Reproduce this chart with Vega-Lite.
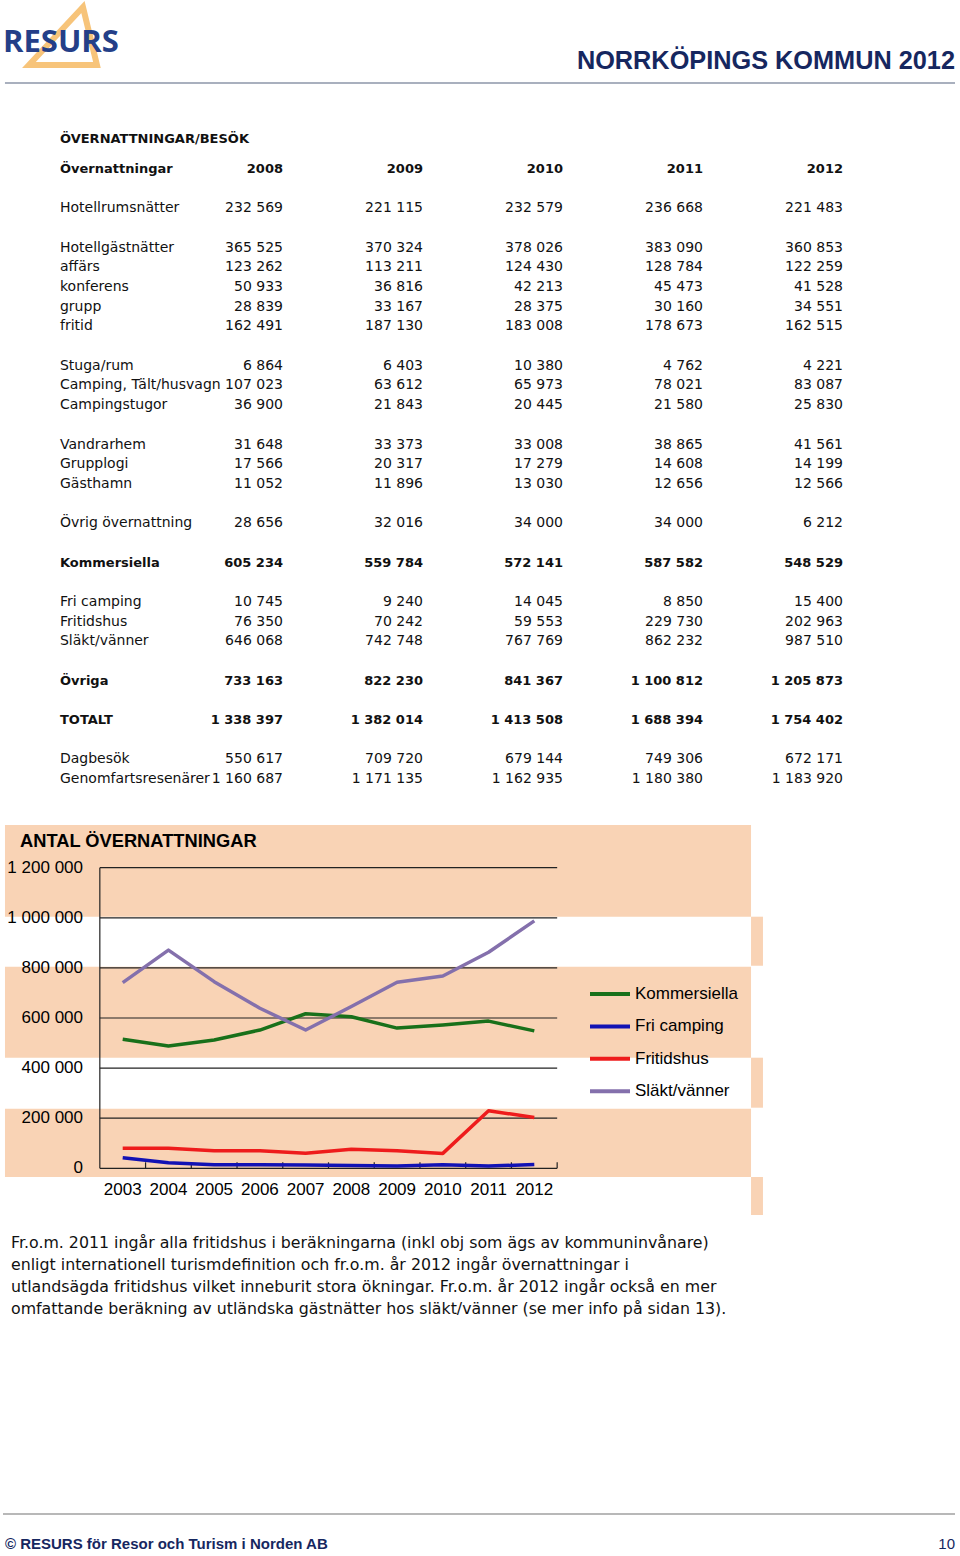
{
  "$schema": "https://vega.github.io/schema/vega-lite/v6.json",
  "width": 960,
  "height": 1556,
  "padding": 0,
  "autosize": {"type": "none"},
  "background": "white",
  "config": {
    "view": {"stroke": null},
    "locale": {"number": {"decimal": ",", "thousands": " ", "grouping": [3], "currency": ["", " kr"]}}
  },
  "resolve": {"scale": {"x": "independent", "y": "independent", "color": "independent"}},
  "layer": [
    {
      "layer": [
        {
          "data": {"values": [{"k": "top"}]},
          "mark": {"type": "rule", "color": "#8d96a8", "strokeWidth": 1.5},
          "encoding": {
            "x": {"datum": 2006.014, "type": "quantitative", "scale": {"domain": [2008, 2012], "range": [283, 843], "zero": false, "nice": false}, "axis": null},
            "x2": {"datum": 2012.8},
            "y": {"datum": -4.37, "type": "quantitative", "scale": {"domain": [0, 31], "range": [169, 779.1], "zero": false, "nice": false}, "axis": null}
          }
        },
        {
          "data": {"values": [{"k": "bottom"}]},
          "mark": {"type": "rule", "color": "#a0a0a0", "strokeWidth": 1.5},
          "encoding": {
            "x": {"datum": 2006.0, "type": "quantitative", "axis": null},
            "x2": {"datum": 2012.8},
            "y": {"datum": 68.34, "type": "quantitative", "axis": null}
          }
        },
        {
          "data": {"values": [{"k": "logo"}]},
          "mark": {"type": "point", "shape": "M0.553,-0.763L0.921,0.763L-0.868,0.763Z", "size": 5776, "filled": false, "stroke": "#f7c47a", "strokeWidth": 6, "opacity": 1},
          "encoding": {
            "x": {"datum": 2006.421, "type": "quantitative", "axis": null},
            "y": {"datum": -6.758, "type": "quantitative", "axis": null}
          }
        },
        {
          "data": {"values": [{"k": "logo", "t": "RESURS"}]},
          "mark": {"type": "text", "align": "left", "baseline": "middle", "font": "Open Sans", "fontWeight": "bold", "fontSize": 31, "color": "#243f88"},
          "encoding": {
            "x": {"datum": 2006.0, "type": "quantitative", "axis": null},
            "y": {"datum": -6.377, "type": "quantitative", "axis": null},
            "text": {"field": "t"}
          }
        },
        {
          "data": {"values": [{"k": "title", "t": "NORRKÖPINGS KOMMUN 2012"}]},
          "mark": {"type": "text", "align": "right", "baseline": "middle", "font": "Liberation Sans", "fontWeight": "bold", "fontSize": 25.3, "color": "#16275f"},
          "encoding": {
            "x": {"datum": 2012.8, "type": "quantitative", "axis": null},
            "y": {"datum": -5.49, "type": "quantitative", "axis": null},
            "text": {"field": "t"}
          }
        },
        {
          "data": {"values": [{"k": "foot", "t": "© RESURS för Resor och Turism i Norden AB"}]},
          "mark": {"type": "text", "align": "left", "baseline": "middle", "font": "Liberation Sans", "fontWeight": "bold", "fontSize": 15, "color": "#16275f"},
          "encoding": {
            "x": {"datum": 2006.014, "type": "quantitative", "axis": null},
            "y": {"datum": 69.87, "type": "quantitative", "axis": null},
            "text": {"field": "t"}
          }
        },
        {
          "data": {"values": [{"k": "page", "t": "10"}]},
          "mark": {"type": "text", "align": "right", "baseline": "middle", "font": "Liberation Sans", "fontSize": 15, "color": "#16275f"},
          "encoding": {
            "x": {"datum": 2012.8, "type": "quantitative", "axis": null},
            "y": {"datum": 69.87, "type": "quantitative", "axis": null},
            "text": {"field": "t"}
          }
        },
        {
          "data": {"name": "labels", "values": [
            {"r": -1.5, "t": "ÖVERNATTNINGAR/BESÖK", "b": 1},
            {"r": 0, "t": "Övernattningar", "b": 1},
            {"r": 2, "t": "Hotellrumsnätter", "b": 0},
            {"r": 4, "t": "Hotellgästnätter", "b": 0},
            {"r": 5, "t": "affärs", "b": 0},
            {"r": 6, "t": "konferens", "b": 0},
            {"r": 7, "t": "grupp", "b": 0},
            {"r": 8, "t": "fritid", "b": 0},
            {"r": 10, "t": "Stuga/rum", "b": 0},
            {"r": 11, "t": "Camping, Tält/husvagn", "b": 0},
            {"r": 12, "t": "Campingstugor", "b": 0},
            {"r": 14, "t": "Vandrarhem", "b": 0},
            {"r": 15, "t": "Grupplogi", "b": 0},
            {"r": 16, "t": "Gästhamn", "b": 0},
            {"r": 18, "t": "Övrig övernattning", "b": 0},
            {"r": 20, "t": "Kommersiella", "b": 1},
            {"r": 22, "t": "Fri camping", "b": 0},
            {"r": 23, "t": "Fritidshus", "b": 0},
            {"r": 24, "t": "Släkt/vänner", "b": 0},
            {"r": 26, "t": "Övriga", "b": 1},
            {"r": 28, "t": "TOTALT", "b": 1},
            {"r": 30, "t": "Dagbesök", "b": 0},
            {"r": 31, "t": "Genomfartsresenärer", "b": 0}
          ]},
          "layer": [
            {
              "transform": [{"filter": "datum.b == 0"}],
              "mark": {"type": "text", "align": "left", "baseline": "middle", "font": "DejaVu Sans", "fontSize": 14, "color": "#111"},
              "encoding": {
                "x": {"datum": 2006.407, "type": "quantitative", "axis": null},
                "y": {"field": "r", "type": "quantitative", "axis": null},
                "text": {"field": "t"}
              }
            },
            {
              "transform": [{"filter": "datum.b == 1"}],
              "mark": {"type": "text", "align": "left", "baseline": "middle", "font": "DejaVu Sans", "fontWeight": "bold", "fontSize": 13, "color": "#111"},
              "encoding": {
                "x": {"datum": 2006.407, "type": "quantitative", "axis": null},
                "y": {"field": "r", "type": "quantitative", "axis": null},
                "text": {"field": "t"}
              }
            }
          ]
        },
        {
          "data": {"values": [{"year": 2008}, {"year": 2009}, {"year": 2010}, {"year": 2011}, {"year": 2012}]},
          "mark": {"type": "text", "align": "right", "baseline": "middle", "font": "DejaVu Sans", "fontWeight": "bold", "fontSize": 13, "color": "#111"},
          "encoding": {
            "x": {"field": "year", "type": "quantitative", "axis": null},
            "y": {"datum": 0, "type": "quantitative", "axis": null},
            "text": {"field": "year", "type": "quantitative", "format": "d"}
          }
        },
        {
          "data": {"name": "cells", "values": [
            {"r": 2, "year": 2008, "v": 232569, "b": 0}, {"r": 2, "year": 2009, "v": 221115, "b": 0}, {"r": 2, "year": 2010, "v": 232579, "b": 0}, {"r": 2, "year": 2011, "v": 236668, "b": 0}, {"r": 2, "year": 2012, "v": 221483, "b": 0},
            {"r": 4, "year": 2008, "v": 365525, "b": 0}, {"r": 4, "year": 2009, "v": 370324, "b": 0}, {"r": 4, "year": 2010, "v": 378026, "b": 0}, {"r": 4, "year": 2011, "v": 383090, "b": 0}, {"r": 4, "year": 2012, "v": 360853, "b": 0},
            {"r": 5, "year": 2008, "v": 123262, "b": 0}, {"r": 5, "year": 2009, "v": 113211, "b": 0}, {"r": 5, "year": 2010, "v": 124430, "b": 0}, {"r": 5, "year": 2011, "v": 128784, "b": 0}, {"r": 5, "year": 2012, "v": 122259, "b": 0},
            {"r": 6, "year": 2008, "v": 50933, "b": 0}, {"r": 6, "year": 2009, "v": 36816, "b": 0}, {"r": 6, "year": 2010, "v": 42213, "b": 0}, {"r": 6, "year": 2011, "v": 45473, "b": 0}, {"r": 6, "year": 2012, "v": 41528, "b": 0},
            {"r": 7, "year": 2008, "v": 28839, "b": 0}, {"r": 7, "year": 2009, "v": 33167, "b": 0}, {"r": 7, "year": 2010, "v": 28375, "b": 0}, {"r": 7, "year": 2011, "v": 30160, "b": 0}, {"r": 7, "year": 2012, "v": 34551, "b": 0},
            {"r": 8, "year": 2008, "v": 162491, "b": 0}, {"r": 8, "year": 2009, "v": 187130, "b": 0}, {"r": 8, "year": 2010, "v": 183008, "b": 0}, {"r": 8, "year": 2011, "v": 178673, "b": 0}, {"r": 8, "year": 2012, "v": 162515, "b": 0},
            {"r": 10, "year": 2008, "v": 6864, "b": 0}, {"r": 10, "year": 2009, "v": 6403, "b": 0}, {"r": 10, "year": 2010, "v": 10380, "b": 0}, {"r": 10, "year": 2011, "v": 4762, "b": 0}, {"r": 10, "year": 2012, "v": 4221, "b": 0},
            {"r": 11, "year": 2008, "v": 107023, "b": 0}, {"r": 11, "year": 2009, "v": 63612, "b": 0}, {"r": 11, "year": 2010, "v": 65973, "b": 0}, {"r": 11, "year": 2011, "v": 78021, "b": 0}, {"r": 11, "year": 2012, "v": 83087, "b": 0},
            {"r": 12, "year": 2008, "v": 36900, "b": 0}, {"r": 12, "year": 2009, "v": 21843, "b": 0}, {"r": 12, "year": 2010, "v": 20445, "b": 0}, {"r": 12, "year": 2011, "v": 21580, "b": 0}, {"r": 12, "year": 2012, "v": 25830, "b": 0},
            {"r": 14, "year": 2008, "v": 31648, "b": 0}, {"r": 14, "year": 2009, "v": 33373, "b": 0}, {"r": 14, "year": 2010, "v": 33008, "b": 0}, {"r": 14, "year": 2011, "v": 38865, "b": 0}, {"r": 14, "year": 2012, "v": 41561, "b": 0},
            {"r": 15, "year": 2008, "v": 17566, "b": 0}, {"r": 15, "year": 2009, "v": 20317, "b": 0}, {"r": 15, "year": 2010, "v": 17279, "b": 0}, {"r": 15, "year": 2011, "v": 14608, "b": 0}, {"r": 15, "year": 2012, "v": 14199, "b": 0},
            {"r": 16, "year": 2008, "v": 11052, "b": 0}, {"r": 16, "year": 2009, "v": 11896, "b": 0}, {"r": 16, "year": 2010, "v": 13030, "b": 0}, {"r": 16, "year": 2011, "v": 12656, "b": 0}, {"r": 16, "year": 2012, "v": 12566, "b": 0},
            {"r": 18, "year": 2008, "v": 28656, "b": 0}, {"r": 18, "year": 2009, "v": 32016, "b": 0}, {"r": 18, "year": 2010, "v": 34000, "b": 0}, {"r": 18, "year": 2011, "v": 34000, "b": 0}, {"r": 18, "year": 2012, "v": 6212, "b": 0},
            {"r": 20, "year": 2008, "v": 605234, "b": 1}, {"r": 20, "year": 2009, "v": 559784, "b": 1}, {"r": 20, "year": 2010, "v": 572141, "b": 1}, {"r": 20, "year": 2011, "v": 587582, "b": 1}, {"r": 20, "year": 2012, "v": 548529, "b": 1},
            {"r": 22, "year": 2008, "v": 10745, "b": 0}, {"r": 22, "year": 2009, "v": 9240, "b": 0}, {"r": 22, "year": 2010, "v": 14045, "b": 0}, {"r": 22, "year": 2011, "v": 8850, "b": 0}, {"r": 22, "year": 2012, "v": 15400, "b": 0},
            {"r": 23, "year": 2008, "v": 76350, "b": 0}, {"r": 23, "year": 2009, "v": 70242, "b": 0}, {"r": 23, "year": 2010, "v": 59553, "b": 0}, {"r": 23, "year": 2011, "v": 229730, "b": 0}, {"r": 23, "year": 2012, "v": 202963, "b": 0},
            {"r": 24, "year": 2008, "v": 646068, "b": 0}, {"r": 24, "year": 2009, "v": 742748, "b": 0}, {"r": 24, "year": 2010, "v": 767769, "b": 0}, {"r": 24, "year": 2011, "v": 862232, "b": 0}, {"r": 24, "year": 2012, "v": 987510, "b": 0},
            {"r": 26, "year": 2008, "v": 733163, "b": 1}, {"r": 26, "year": 2009, "v": 822230, "b": 1}, {"r": 26, "year": 2010, "v": 841367, "b": 1}, {"r": 26, "year": 2011, "v": 1100812, "b": 1}, {"r": 26, "year": 2012, "v": 1205873, "b": 1},
            {"r": 28, "year": 2008, "v": 1338397, "b": 1}, {"r": 28, "year": 2009, "v": 1382014, "b": 1}, {"r": 28, "year": 2010, "v": 1413508, "b": 1}, {"r": 28, "year": 2011, "v": 1688394, "b": 1}, {"r": 28, "year": 2012, "v": 1754402, "b": 1},
            {"r": 30, "year": 2008, "v": 550617, "b": 0}, {"r": 30, "year": 2009, "v": 709720, "b": 0}, {"r": 30, "year": 2010, "v": 679144, "b": 0}, {"r": 30, "year": 2011, "v": 749306, "b": 0}, {"r": 30, "year": 2012, "v": 672171, "b": 0},
            {"r": 31, "year": 2008, "v": 1160687, "b": 0}, {"r": 31, "year": 2009, "v": 1171135, "b": 0}, {"r": 31, "year": 2010, "v": 1162935, "b": 0}, {"r": 31, "year": 2011, "v": 1180380, "b": 0}, {"r": 31, "year": 2012, "v": 1183920, "b": 0}
          ]},
          "layer": [
            {
              "transform": [{"filter": "datum.b == 0"}],
              "mark": {"type": "text", "align": "right", "baseline": "middle", "font": "DejaVu Sans", "fontSize": 14, "color": "#111"},
              "encoding": {
                "x": {"field": "year", "type": "quantitative", "axis": null},
                "y": {"field": "r", "type": "quantitative", "axis": null},
                "text": {"field": "v", "type": "quantitative", "format": ",d"}
              }
            },
            {
              "transform": [{"filter": "datum.b == 1"}],
              "mark": {"type": "text", "align": "right", "baseline": "middle", "font": "DejaVu Sans", "fontWeight": "bold", "fontSize": 13, "color": "#111"},
              "encoding": {
                "x": {"field": "year", "type": "quantitative", "axis": null},
                "y": {"field": "r", "type": "quantitative", "axis": null},
                "text": {"field": "v", "type": "quantitative", "format": ",d"}
              }
            }
          ]
        }
      ]
    },
    {
      "data": {"values": [
        {"line": 1, "t": "Fr.o.m. 2011 ingår alla fritidshus i beräkningarna (inkl obj som ägs av kommuninvånare)"},
        {"line": 2, "t": "enligt internationell turismdefinition och fr.o.m. år 2012 ingår övernattningar i"},
        {"line": 3, "t": "utlandsägda fritidshus vilket inneburit stora ökningar. Fr.o.m. år 2012 ingår också en mer"},
        {"line": 4, "t": "omfattande beräkning av utländska gästnätter hos släkt/vänner (se mer info på sidan 13)."}
      ]},
      "mark": {"type": "text", "align": "left", "baseline": "middle", "font": "DejaVu Sans", "fontSize": 15.8, "color": "#111"},
      "encoding": {
        "x": {"datum": 0, "type": "quantitative", "scale": {"domain": [0, 1], "range": [11, 12], "zero": false, "nice": false}, "axis": null},
        "y": {"field": "line", "type": "quantitative", "scale": {"domain": [1, 4], "range": [1243, 1309], "zero": false, "nice": false}, "axis": null},
        "text": {"field": "t"}
      }
    },
    {
      "layer": [
        {
          "data": {"values": [{"band": 1}]},
          "mark": {"type": "rect", "color": "#f9d3b5"},
          "encoding": {
            "x": {"datum": 2000.426, "type": "quantitative", "scale": {"domain": [2003, 2012], "range": [122.7, 534.3], "zero": false, "nice": false}, "axis": null},
            "x2": {"datum": 2016.739},
            "y": {"datum": 1370500, "type": "quantitative", "scale": {"domain": [0, 1200000], "range": [1168.3, 867.7], "zero": false, "nice": false}, "axis": null},
            "y2": {"datum": 1004400}
          }
        },
        {
          "data": {"values": [{"band": 2}]},
          "mark": {"type": "rect", "color": "#f9d3b5"},
          "encoding": {
            "x": {"datum": 2000.426, "type": "quantitative", "axis": null},
            "x2": {"datum": 2016.739},
            "y": {"datum": 804800, "type": "quantitative", "axis": null},
            "y2": {"datum": 441500}
          }
        },
        {
          "data": {"values": [{"band": 3}]},
          "mark": {"type": "rect", "color": "#f9d3b5"},
          "encoding": {
            "x": {"datum": 2000.426, "type": "quantitative", "axis": null},
            "x2": {"datum": 2016.739},
            "y": {"datum": 237900, "type": "quantitative", "axis": null},
            "y2": {"datum": -34700}
          }
        },
        {
          "data": {"values": [{"band": 4}]},
          "mark": {"type": "rect", "color": "#f9d3b5"},
          "encoding": {
            "x": {"datum": 2016.739, "type": "quantitative", "axis": null},
            "x2": {"datum": 2017.0},
            "y": {"datum": 1004400, "type": "quantitative", "axis": null},
            "y2": {"datum": 808600}
          }
        },
        {
          "data": {"values": [{"band": 5}]},
          "mark": {"type": "rect", "color": "#f9d3b5"},
          "encoding": {
            "x": {"datum": 2016.739, "type": "quantitative", "axis": null},
            "x2": {"datum": 2017.0},
            "y": {"datum": 441500, "type": "quantitative", "axis": null},
            "y2": {"datum": 241900}
          }
        },
        {
          "data": {"values": [{"band": 6}]},
          "mark": {"type": "rect", "color": "#f9d3b5"},
          "encoding": {
            "x": {"datum": 2016.739, "type": "quantitative", "axis": null},
            "x2": {"datum": 2017.0},
            "y": {"datum": -34700, "type": "quantitative", "axis": null},
            "y2": {"datum": -186400}
          }
        },
        {
          "data": {"name": "gridvals", "values": [{"g": 0}, {"g": 200000}, {"g": 400000}, {"g": 600000}, {"g": 800000}, {"g": 1000000}, {"g": 1200000}]},
          "layer": [
            {
              "mark": {"type": "rule", "color": "#222", "strokeWidth": 1.2},
              "encoding": {
                "x": {"datum": 2002.5, "type": "quantitative", "axis": null},
                "x2": {"datum": 2012.5},
                "y": {"field": "g", "type": "quantitative", "axis": null}
              }
            },
            {
              "mark": {"type": "text", "align": "right", "baseline": "middle", "font": "Liberation Sans", "fontSize": 17, "color": "#000"},
              "encoding": {
                "x": {"datum": 2002.132, "type": "quantitative", "axis": null},
                "y": {"field": "g", "type": "quantitative", "axis": null},
                "text": {"field": "g", "type": "quantitative", "format": ",d"}
              }
            }
          ]
        },
        {
          "data": {"values": [{"k": "axis"}]},
          "mark": {"type": "rule", "color": "#222", "strokeWidth": 1.2},
          "encoding": {
            "x": {"datum": 2002.5, "type": "quantitative", "axis": null},
            "y": {"datum": 0, "type": "quantitative", "axis": null},
            "y2": {"datum": 1200000}
          }
        },
        {
          "data": {"values": [{"b": 2003.5}, {"b": 2004.5}, {"b": 2005.5}, {"b": 2006.5}, {"b": 2007.5}, {"b": 2008.5}, {"b": 2009.5}, {"b": 2010.5}, {"b": 2011.5}, {"b": 2012.5}]},
          "mark": {"type": "rule", "color": "#222", "strokeWidth": 1.2},
          "encoding": {
            "x": {"field": "b", "type": "quantitative", "axis": null},
            "y": {"datum": 0, "type": "quantitative", "axis": null},
            "y2": {"datum": 24000}
          }
        },
        {
          "data": {"values": [{"yr": 2003}, {"yr": 2004}, {"yr": 2005}, {"yr": 2006}, {"yr": 2007}, {"yr": 2008}, {"yr": 2009}, {"yr": 2010}, {"yr": 2011}, {"yr": 2012}]},
          "mark": {"type": "text", "align": "center", "baseline": "middle", "font": "Liberation Sans", "fontSize": 17, "color": "#000"},
          "encoding": {
            "x": {"field": "yr", "type": "quantitative", "axis": null},
            "y": {"datum": -88600, "type": "quantitative", "axis": null},
            "text": {"field": "yr", "type": "quantitative", "format": "d"}
          }
        },
        {
          "data": {"values": [
            {"series": "Kommersiella", "year": 2003, "value": 515000},
            {"series": "Kommersiella", "year": 2004, "value": 488000},
            {"series": "Kommersiella", "year": 2005, "value": 512000},
            {"series": "Kommersiella", "year": 2006, "value": 552000},
            {"series": "Kommersiella", "year": 2007, "value": 617000},
            {"series": "Kommersiella", "year": 2008, "value": 605234},
            {"series": "Kommersiella", "year": 2009, "value": 559784},
            {"series": "Kommersiella", "year": 2010, "value": 572141},
            {"series": "Kommersiella", "year": 2011, "value": 587582},
            {"series": "Kommersiella", "year": 2012, "value": 548529},
            {"series": "Fri camping", "year": 2003, "value": 42000},
            {"series": "Fri camping", "year": 2004, "value": 22000},
            {"series": "Fri camping", "year": 2005, "value": 14000},
            {"series": "Fri camping", "year": 2006, "value": 14000},
            {"series": "Fri camping", "year": 2007, "value": 13000},
            {"series": "Fri camping", "year": 2008, "value": 10745},
            {"series": "Fri camping", "year": 2009, "value": 9240},
            {"series": "Fri camping", "year": 2010, "value": 14045},
            {"series": "Fri camping", "year": 2011, "value": 8850},
            {"series": "Fri camping", "year": 2012, "value": 15400},
            {"series": "Fritidshus", "year": 2003, "value": 80000},
            {"series": "Fritidshus", "year": 2004, "value": 80000},
            {"series": "Fritidshus", "year": 2005, "value": 70000},
            {"series": "Fritidshus", "year": 2006, "value": 70000},
            {"series": "Fritidshus", "year": 2007, "value": 60000},
            {"series": "Fritidshus", "year": 2008, "value": 76350},
            {"series": "Fritidshus", "year": 2009, "value": 70242},
            {"series": "Fritidshus", "year": 2010, "value": 59553},
            {"series": "Fritidshus", "year": 2011, "value": 229730},
            {"series": "Fritidshus", "year": 2012, "value": 202963},
            {"series": "Släkt/vänner", "year": 2003, "value": 741000},
            {"series": "Släkt/vänner", "year": 2004, "value": 871000},
            {"series": "Släkt/vänner", "year": 2005, "value": 745000},
            {"series": "Släkt/vänner", "year": 2006, "value": 639000},
            {"series": "Släkt/vänner", "year": 2007, "value": 552000},
            {"series": "Släkt/vänner", "year": 2008, "value": 646068},
            {"series": "Släkt/vänner", "year": 2009, "value": 742748},
            {"series": "Släkt/vänner", "year": 2010, "value": 767769},
            {"series": "Släkt/vänner", "year": 2011, "value": 862232},
            {"series": "Släkt/vänner", "year": 2012, "value": 987510}
          ]},
          "mark": {"type": "line", "strokeWidth": 3.5, "strokeJoin": "round"},
          "encoding": {
            "x": {"field": "year", "type": "quantitative", "axis": null},
            "y": {"field": "value", "type": "quantitative", "axis": null},
            "color": {
              "field": "series", "type": "nominal",
              "scale": {"domain": ["Kommersiella", "Fri camping", "Fritidshus", "Släkt/vänner"], "range": ["#19701a", "#1212b4", "#ee1c1c", "#8470ac"]},
              "legend": {"orient": "none", "legendX": 588, "legendY": 972, "title": null, "padding": 0, "offset": 0, "symbolType": "stroke", "symbolStrokeWidth": 4, "symbolSize": 1600, "labelFont": "Liberation Sans", "labelFontSize": 17, "labelColor": "#000", "labelOffset": 3, "rowPadding": 2.4, "labelLimit": 300}
            }
          }
        },
        {
          "data": {"values": [{"t": "ANTAL ÖVERNATTNINGAR"}]},
          "mark": {"type": "text", "align": "left", "baseline": "middle", "font": "Liberation Sans", "fontWeight": "bold", "fontSize": 18.3, "color": "#000"},
          "encoding": {
            "x": {"datum": 2000.754, "type": "quantitative", "axis": null},
            "y": {"datum": 1302600, "type": "quantitative", "axis": null},
            "text": {"field": "t"}
          }
        }
      ]
    }
  ]
}
